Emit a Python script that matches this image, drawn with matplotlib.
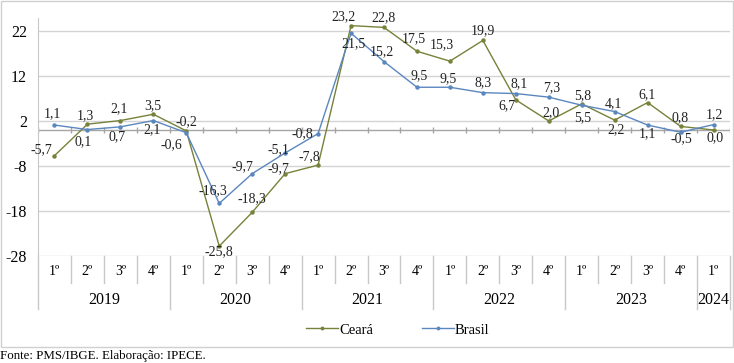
import matplotlib
matplotlib.use("Agg")
import matplotlib.pyplot as plt
from matplotlib.patches import Rectangle

plt.rcParams['font.family'] = ['Liberation Serif', 'DejaVu Serif']
plt.rcParams['axes.unicode_minus'] = False

# dados
anos = ['2019', '2020', '2021', '2022', '2023', '2024']
quartos_por_ano = [4, 4, 4, 4, 4, 1]
trimestres = ['1º', '2º', '3º', '4º'] * 5 + ['1º']
ceara = [-5.7, 1.3, 2.1, 3.5, -0.2, -25.8, -18.3, -9.7, -7.8, 23.2, 22.8,
         17.5, 15.3, 19.9, 6.7, 2.0, 5.8, 2.2, 6.1, 0.8, 0.0]
brasil = [1.1, 0.1, 0.7, 2.1, -0.6, -16.3, -9.7, -5.1, -0.8, 21.5, 15.2,
          9.5, 9.5, 8.3, 8.1, 7.3, 5.5, 4.1, 1.1, -0.5, 1.2]
yticks = [-28, -18, -8, 2, 12, 22]

# deslocamento dos rótulos (pixels: dx, dy para cima)
off_ceara = [(-13, 6), (-2, 8), (-1, 12), (-1, 9), (0, 9), (0, -6), (0, 14),
             (-7, 5), (-9, 8), (-8, 9), (0, 10), (-3, 13), (-8, 16), (0, 10),
             (-9, -6), (2, 8), (1, 8), (1, -10), (-1, 8), (-1, 9), (2, -8)]
off_brasil = [(-2, 11), (-4, -12), (-3, -10), (-1, -9), (-15, -12), (-6, 13),
              (-10, 7), (-7, 3), (-16, 0), (2, -10), (-2, 10), (2, 12), (-2, 9),
              (0, 10), (3, 10), (3, 9), (1, -12), (-1, 8), (0, -9), (1, -6), (1, 10)]

cor_ce = '#76823a'
cor_br = '#5b87bf'

fig = plt.figure(figsize=(7.34, 3.63), dpi=100)
ax = fig.add_axes([38 / 734, 1 - 256 / 363, (730 - 38) / 734, (256 - 17.5) / 363])

x = list(range(len(trimestres)))
ax.plot(x, ceara, color=cor_ce, lw=1.0, marker='o', ms=2.2, label='Ceará', zorder=3)
ax.plot(x, brasil, color=cor_br, lw=1.0, marker='o', ms=2.2, label='Brasil', zorder=3)

def rotulo(v):
    return f'{v:.1f}'.replace('.', ',')

for xi, v, (dx, dy) in zip(x, ceara, off_ceara):
    ax.annotate(rotulo(v), (xi, v), xytext=(dx, dy), textcoords='offset pixels',
                ha='center', va='center', fontsize=10, color='#222222', zorder=4)
for xi, v, (dx, dy) in zip(x, brasil, off_brasil):
    ax.annotate(rotulo(v), (xi, v), xytext=(dx, dy), textcoords='offset pixels',
                ha='center', va='center', fontsize=10, color='#222222', zorder=4)

n = len(trimestres)
ax.set_xlim(-0.5, n - 0.5)
ax.set_ylim(-28, 25)
ax.set_yticks(yticks)
ax.set_yticklabels([str(t) for t in yticks], fontsize=11.5)
ax.tick_params(axis='y', length=0, pad=8)
ax.set_xticks([])
ax.grid(axis='y', color='#d4d4d4', lw=1)
ax.set_axisbelow(True)
for s in ['top', 'right', 'bottom']:
    ax.spines[s].set_visible(False)
ax.spines['left'].set_color('#c8c8c8')

# linha do zero com marcas
ax.axhline(0, color='#a6a6a6', lw=1, zorder=2)
bordas = [i - 0.5 for i in range(n + 1)]
ax.vlines(bordas, -0.7, 0.7, color='#a6a6a6', lw=1, zorder=2)

# eixo de categorias em dois níveis
tr = ax.get_xaxis_transform()
linha = dict(color='#c8c8c8', lw=1, transform=tr, clip_on=False)
for xi, t in zip(x, trimestres):
    ax.text(xi, -0.067, t, transform=tr, ha='center', va='center', fontsize=10)
inicio = 0
limites_ano = [-0.5]
for ano, q in zip(anos, quartos_por_ano):
    ax.text(inicio + (q - 1) / 2, -0.185, ano, transform=tr, ha='center',
            va='center', fontsize=11.5)
    inicio += q
    limites_ano.append(inicio - 0.5)
for b in bordas:
    if b in limites_ano:
        ax.plot([b, b], [0, -0.222], **linha)
    else:
        ax.plot([b, b], [0, -0.113], **linha)

fig.legend(loc='center', bbox_to_anchor=(0.542, 1 - 330 / 363), ncol=2,
           frameon=False, prop={'family': 'Liberation Serif', 'size': 10.5},
           handlelength=2.2, columnspacing=3.3, handletextpad=0.1, markerscale=0.8)

fig.patches.append(Rectangle((1 / 734, 1 - 347 / 363), 732 / 734, 346 / 363,
                             transform=fig.transFigure, fill=False,
                             edgecolor='#d0d0d0', lw=1))
fig.text(0.0, 1 - 356 / 363, 'Fonte: PMS/IBGE. Elaboração: IPECE.', fontsize=9.3,
         ha='left', va='center')

fig.savefig('out.png', dpi=100)
